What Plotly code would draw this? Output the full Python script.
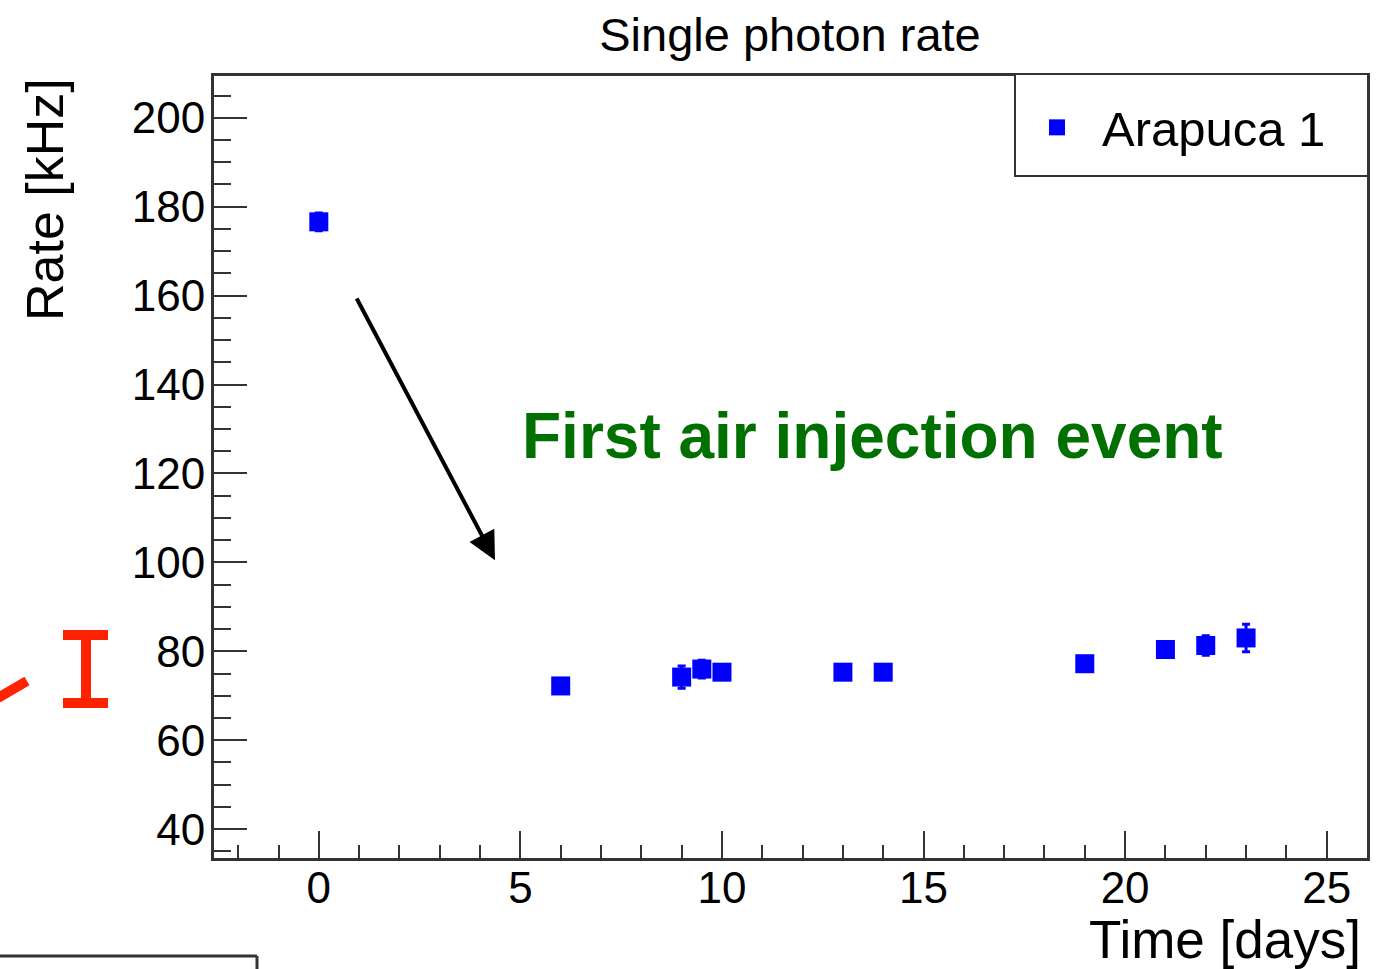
import plotly.graph_objects as go

# ---- data ----
time_days = [0, 6, 9, 9.5, 10, 13, 14, 19, 21, 22, 23]
rate_khz = [176.6, 72.2, 74.2, 76.0, 75.3, 75.3, 75.3, 77.2, 80.4, 81.3, 83.0]
rate_err = [2.0, 1.5, 2.5, 2.0, 1.5, 1.5, 1.5, 1.5, 1.5, 2.2, 3.1]

W, H = 1389, 969
ML, MR, MT, MB = 214, 22, 76, 111
PW, PH = W - ML - MR, H - MT - MB


def px(x):
    return (x - ML) / PW


def py(y):
    return (H - MB - y) / PH


FONT = "Liberation Sans, Arial, Helvetica, sans-serif"
AX = "#333333"

fig = go.Figure()
fig.add_trace(go.Scatter(
    x=time_days, y=rate_khz, mode="markers", name="Arapuca 1",
    marker=dict(symbol="square", size=19, color="#0000ff"),
    error_y=dict(type="data", array=rate_err, visible=True, color="#0000ff",
                 thickness=3, width=4),
))

axis_common = dict(
    showline=True, linecolor=AX, linewidth=3, mirror=True,
    showgrid=False, zeroline=False, ticks="inside", tickcolor=AX,
    tickwidth=2, tickfont=dict(family=FONT, size=44, color="black"),
)

fig.update_xaxes(range=[-2.6, 26.0], tickvals=[0, 5, 10, 15, 20, 25],
                 ticklen=27, ticklabelstandoff=-11,
                 minor=dict(dtick=1, ticks="inside", ticklen=13, tickcolor=AX, tickwidth=2),
                 **axis_common)
fig.update_yaxes(range=[33.5, 209.4], tickvals=[40, 60, 80, 100, 120, 140, 160, 180, 200],
                 ticklen=33, ticklabelstandoff=-3,
                 minor=dict(dtick=5, ticks="inside", ticklen=17, tickcolor=AX, tickwidth=2),
                 **axis_common)

annotations = [
    dict(text="Rate [kHz]", xref="paper", yref="paper", x=px(45), y=py(200),
         textangle=-90, showarrow=False, xanchor="center", yanchor="middle",
         font=dict(family=FONT, size=52, color="black")),
    dict(text="Time [days]", xref="paper", yref="paper", x=px(1363), y=py(940),
         showarrow=False, xanchor="right", yanchor="middle",
         font=dict(family=FONT, size=53, color="black")),
    dict(text="<b>First air injection event</b>", xref="paper", yref="paper",
         x=px(872), y=py(436), showarrow=False, xanchor="center", yanchor="middle",
         font=dict(family=FONT, size=64, color="#007000")),
    dict(text="", x=4.37, y=100.5, xref="x", yref="y", ax=0.92, ay=159.7,
         axref="x", ayref="y", showarrow=True, arrowhead=2, arrowsize=1.4,
         arrowwidth=4, arrowcolor="black"),
]

shapes = [
    # legend frame
    dict(type="rect", xref="paper", yref="paper", x0=px(1015), x1=px(1368), y0=py(74), y1=py(176),
         line=dict(color=AX, width=2), fillcolor="white", layer="above"),
    # red fragments at left edge
    dict(type="line", xref="paper", yref="paper", x0=px(86), x1=px(86), y0=py(630), y1=py(708),
         line=dict(color="#ff2200", width=10)),
    dict(type="line", xref="paper", yref="paper", x0=px(63), x1=px(108), y0=py(635), y1=py(635),
         line=dict(color="#ff2200", width=10)),
    dict(type="line", xref="paper", yref="paper", x0=px(63), x1=px(108), y0=py(703), y1=py(703),
         line=dict(color="#ff2200", width=10)),
    dict(type="line", xref="paper", yref="paper", x0=px(-2), x1=px(27), y0=py(698), y1=py(681),
         line=dict(color="#ff2200", width=10)),
    # box fragment at bottom-left
    dict(type="line", xref="paper", yref="paper", x0=px(-5), x1=px(257), y0=py(956), y1=py(956),
         line=dict(color=AX, width=3)),
    dict(type="line", xref="paper", yref="paper", x0=px(257), x1=px(257), y0=py(956), y1=py(975),
         line=dict(color=AX, width=3)),
]

fig.update_layout(
    width=W, height=H,
    margin=dict(l=ML, r=MR, t=MT, b=MB),
    paper_bgcolor="white", plot_bgcolor="white",
    title=dict(text="Single photon rate", x=790 / W, xanchor="center",
               y=1 - 35 / H, yanchor="middle", yref="container",
               font=dict(family=FONT, size=47, color="black")),
    showlegend=True,
    legend=dict(x=px(1012), y=py(89), xanchor="left", yanchor="top",
                bgcolor="rgba(0,0,0,0)", borderwidth=0,
                font=dict(family=FONT, size=49, color="black"),
                itemwidth=80, tracegroupgap=0),
    annotations=annotations, shapes=shapes,
)

fig.write_html("out.html")
